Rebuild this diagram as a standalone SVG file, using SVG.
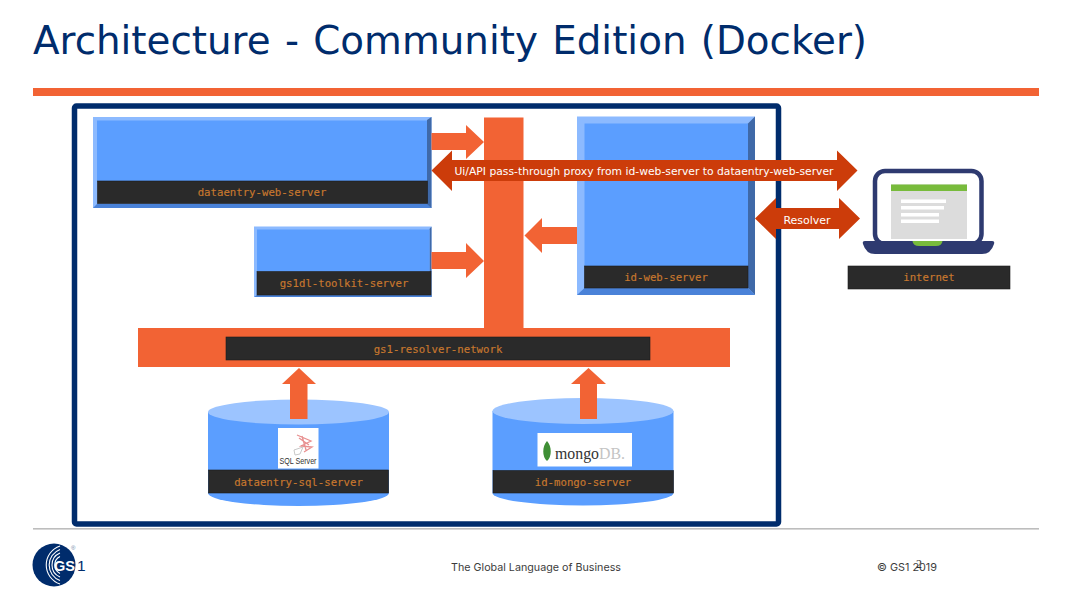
<svg xmlns="http://www.w3.org/2000/svg" width="1067" height="595" viewBox="0 0 1067 595">
<style>
.o{fill:#f26334}
.r{fill:#cc3c0a}
.bar{fill:#2a2a2a;stroke:#1c1c1c;stroke-width:.6}
.t{font-family:"DejaVu Sans Mono","Liberation Mono",monospace;font-size:10.7px;fill:#c8782e;stroke:#c8782e;stroke-width:.15;text-anchor:middle}
.w{font-family:"DejaVu Sans","Liberation Sans",sans-serif;font-size:11px;fill:#fff;text-anchor:middle}
.f{font-family:"Inter","Liberation Sans",sans-serif;font-size:10.6px;fill:#3c3c3c}
.face{fill:#5b9eff}.lt{fill:#8cbaff}.dk{fill:#3f69a8}.mid{fill:#4a82d8}
.top{fill:#9cc4ff}
</style>
<defs><clipPath id="gsclip"><circle cx="54" cy="565" r="21.500"/></clipPath></defs>
<rect width="1067" height="595" fill="#fff"/>
<text x="33" y="54" font-family="'DejaVu Sans','Liberation Sans',sans-serif" font-size="39px" word-spacing="2px" fill="#002c6c" textLength="834" lengthAdjust="spacingAndGlyphs">Architecture - Community Edition (Docker)</text>
<rect x="33" y="88" width="1006" height="8" fill="#f26334"/>
<rect x="33" y="528" width="1006" height="1.6" fill="#bdbdbd"/>
<rect id="frame" x="74.500" y="106" width="704" height="418" rx="2" fill="#fff" stroke="#002c6c" stroke-width="5.500"/>

<g id="bus">
<rect class="o" x="484" y="117.500" width="39.500" height="211"/>
<rect class="o" x="138" y="328" width="592" height="39"/>
<rect class="bar" x="226" y="337" width="424" height="23"/>
<text class="t" x="438" y="352.500">gs1-resolver-network</text>
</g>

<g id="dataentry-web-server">
<rect class="lt" x="93" y="117" width="338.500" height="91"/>
<path class="dk" d="M431.500 117V208H427V120Z"/>
<path class="mid" d="M93 208L97 204H427L431.500 208Z"/>
<rect class="face" x="97" y="120.500" width="330" height="61"/>
<rect class="bar" x="97.500" y="181" width="330" height="22.500"/>
<text class="t" x="262" y="196">dataentry-web-server</text>
</g>

<g id="gs1dl-toolkit-server">
<rect class="lt" x="254" y="226.500" width="177.500" height="70.500"/>
<path class="dk" d="M431.500 226.500V297H429.500V229Z"/>
<path class="mid" d="M254 297L257 295H431.500V297Z"/>
<rect class="face" x="257" y="229.500" width="172.500" height="42"/>
<rect class="bar" x="257" y="271.500" width="174" height="23.500"/>
<text class="t" x="344" y="287">gs1dl-toolkit-server</text>
</g>

<g id="id-web-server">
<rect class="lt" x="577" y="116.500" width="178" height="178.500"/>
<path class="dk" d="M755 116.500V295L748 288V123.500Z"/>
<path class="mid" d="M577 295L584.500 288H748L755 295Z"/>
<rect class="face" x="584.500" y="123.500" width="163.500" height="143"/>
<rect class="bar" x="584.500" y="266" width="163.500" height="22"/>
<text class="t" x="666" y="281">id-web-server</text>
</g>

<g id="dataentry-sql-server">
<path class="face" d="M208 412V493A90.500 13 0 0 0 389 493V412Z"/>
<ellipse class="top" cx="298.500" cy="412" rx="90.500" ry="12.500"/>
<rect class="bar" x="208.500" y="470" width="180" height="23"/>
<text class="t" x="298.500" y="485.500">dataentry-sql-server</text>
<rect x="278" y="428" width="40.500" height="40.500" fill="#fff"/>
<path d="M297 435L311 441L301 446L312 447L304 452M299 438L309 445M302 436L306 450" fill="none" stroke="#e89090" stroke-width="1.300"/>
<path d="M294 450L303 447L300 454L295 455Z" fill="none" stroke="#c9c9c9" stroke-width="1"/>
<text x="298" y="463.500" font-family="'Liberation Sans',sans-serif" font-size="9.500px" fill="#333" text-anchor="middle" textLength="37" lengthAdjust="spacingAndGlyphs">SQL Server</text>
</g>

<g id="id-mongo-server">
<path class="face" d="M492.500 411V493A90.500 12.500 0 0 0 673.500 493V411Z"/>
<ellipse class="top" cx="583" cy="411" rx="90.500" ry="13"/>
<rect class="bar" x="493" y="470.500" width="180.500" height="22.500"/>
<text class="t" x="583" y="485.500">id-mongo-server</text>
<rect x="537.500" y="433" width="94.500" height="33.500" fill="#fff"/>
<path d="M547 441C552 446 552 457 547 461C542 457 542 446 547 441Z" fill="#3f8f35"/>
<text x="555" y="459" font-family="'Liberation Serif',serif" font-size="17px" fill="#333" textLength="70" lengthAdjust="spacingAndGlyphs">mongo<tspan fill="#c4c4c4">DB.</tspan></text>
</g>

<g id="internet">
<rect x="875" y="171" width="106.500" height="73" rx="10" fill="#fff" stroke="#2e3a70" stroke-width="4.500"/>
<rect x="891" y="184.500" width="76" height="54.500" fill="#dcdcdc"/>
<rect x="891" y="184.500" width="76" height="6.500" fill="#78bb3c"/>
<rect x="901" y="199.500" width="45" height="3.500" fill="#fff"/>
<rect x="901" y="206" width="43" height="3.500" fill="#fff"/>
<rect x="901" y="213" width="38" height="3.500" fill="#fff"/>
<rect x="901" y="219.500" width="38" height="3.500" fill="#fff"/>
<path d="M865 241H992Q995 241 994 244Q991 254 982 254H875Q866 254 863 244Q862 241 865 241Z" fill="#2e3a70"/>
<path d="M912.500 241H942.500Q942 246 936 246H919Q913 246 912.500 241Z" fill="#78bb3c"/>
<rect class="bar" x="848" y="266" width="162" height="23"/>
<text class="t" x="929" y="281">internet</text>
</g>

<g id="connectors">
<path class="o" d="M431.500 133H466V125L484 142L466 159V150H431.500Z"/>
<path class="o" d="M431.500 252H466V243L484 261L466 278V269H431.500Z"/>
<path class="o" d="M577 227H542V218L524.500 235.500L542 253V244H577Z"/>
<path class="o" d="M290 419V384H282L299 368L316 384H307.500V419Z"/>
<path class="o" d="M580 419V384H571L588.500 368L606 384H597V419Z"/>
<path class="r" d="M431.500 170.500L452 150.500V160H837V150.500L857.500 170.500L837 191V181H452V191Z"/>
<path class="r" d="M755 218.500L776 198V208H839V198L860 218.500L839 239V229H776V239Z"/>
<text class="w" x="644" y="175" textLength="379" lengthAdjust="spacingAndGlyphs">Ui/API pass-through proxy from id-web-server to dataentry-web-server</text>
<text class="w" x="807" y="223.500">Resolver</text>
</g>

<g id="gs1-logo">
<circle cx="54" cy="565" r="21.500" fill="#002c6c"/>
<g fill="none" stroke="#fff" stroke-width="1.100" clip-path="url(#gsclip)">
<path d="M60 553A13 13 0 0 0 60 577"/>
<path d="M60 549.500A16.500 16.500 0 0 0 60 580.500"/>
<path d="M60 546A20 20 0 0 0 60 584"/>
<path d="M60 556.500A9.500 9.500 0 0 0 60 573.500"/>
</g>
<text x="54" y="570.500" font-family="'Liberation Sans',sans-serif" font-weight="700" font-size="15.500px" fill="#fff" textLength="21" lengthAdjust="spacingAndGlyphs">GS</text>
<text x="77" y="570.500" font-family="'Liberation Sans',sans-serif" font-size="15.500px" fill="#002c6c">1</text>
<text x="71" y="549.500" font-family="'Liberation Sans',sans-serif" font-size="6px" fill="#6a7fa5">®</text>
</g>
<text class="f" x="451" y="571" textLength="170" lengthAdjust="spacingAndGlyphs">The Global Language of Business</text>
<text class="f" x="877" y="570.500" font-size="10px" textLength="60" lengthAdjust="spacingAndGlyphs">© GS1 2019</text>
<text x="919" y="567.500" font-family="'Liberation Serif',serif" font-size="12px" fill="#333" text-anchor="middle">2</text>
</svg>
